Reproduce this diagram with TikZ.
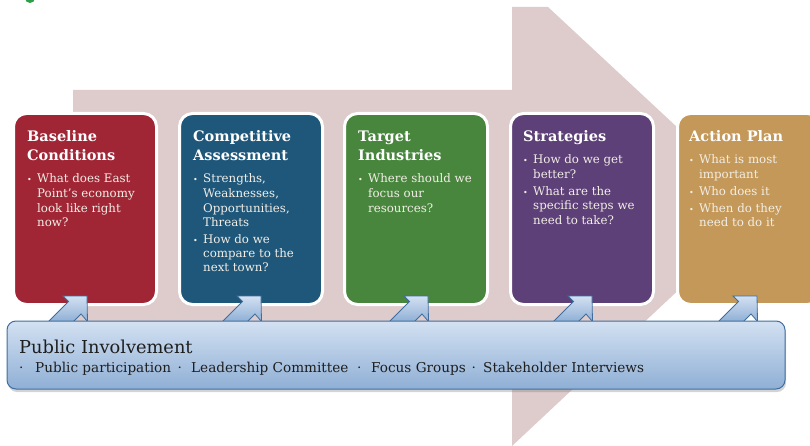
\documentclass[tikz,border=0pt]{standalone}
\usepackage{fontspec}
\setmainfont{DejaVu Serif}
\usepackage{tikz}
\usetikzlibrary{positioning, shadows}

\definecolor{arrowpink}{HTML}{DECBCC}
\definecolor{basered}{HTML}{A02636}
\definecolor{compblue}{HTML}{1F577A}
\definecolor{targetgreen}{HTML}{48863E}
\definecolor{stratpurple}{HTML}{5D4078}
\definecolor{actiongold}{HTML}{C49858}
\definecolor{publine}{HTML}{3F6E9E}
\definecolor{pubtop}{HTML}{D3E1F2}
\definecolor{pubbottom}{HTML}{8FAFD5}
\definecolor{bullettext}{HTML}{F2EEE6}
\definecolor{pubtext}{HTML}{1E1E1E}
\definecolor{dotgreen}{HTML}{2E9E48}

\newcommand{\stagedot}{\fontsize{8}{8}\selectfont\textbullet}

\tikzset{
    stage/.style={rounded corners=13pt, draw=white, line width=3pt, minimum width=143pt, minimum height=191pt, inner sep=0pt,
        drop shadow={opacity=0.18, shadow xshift=0.6pt, shadow yshift=-1.2pt}},
    stagetitle/.style={anchor=base west, inner sep=0pt, text=white, font=\bfseries\fontsize{14.5}{18.5}\selectfont},
    stagebullets/.style={anchor=base west, inner sep=0pt, text=bullettext, font=\fontsize{11.8}{14.5}\selectfont},
    pubbox/.style={rounded corners=9pt, draw=publine, line width=1pt, top color=pubtop, bottom color=pubbottom,
        minimum width=778pt, minimum height=68pt, inner sep=0pt,
        drop shadow={opacity=0.35, shadow xshift=1pt, shadow yshift=-3pt}},
    pubhead/.style={anchor=base west, inner sep=0pt, text=pubtext, font=\fontsize{17.8}{20}\selectfont},
    pubitem/.style={anchor=base west, inner sep=0pt, text=pubtext, font=\fontsize{13.6}{15}\selectfont},
    pubarrow/.pic={
        \draw[publine, line width=0.8pt, line join=miter, top color=pubtop, bottom color=pubbottom]
            (-38.5,25.5) -- (-18.5,5.5) -- (-24,0) -- (0,0) -- (0.5,25.5) -- (-6,18) -- (-13.5,25.5) -- cycle;
    }
}

\begin{document}
\begin{tikzpicture}[x=1pt, y=-1pt]
    \useasboundingbox (0,0) rectangle (810,446);
    \fill[dotgreen] (30,-2) circle (5);
    \coordinate (shaftNW) at (73,90);
    \coordinate (shaftNE) at (512,90);
    \coordinate (headN) at (512,7);
    \coordinate (headNE) at (548,7);
    \coordinate (headTip) at (765,209);
    \coordinate (headS) at (512,446);
    \coordinate (shaftSE) at (512,362);
    \coordinate (shaftSW) at (73,362);
    \fill[arrowpink] (shaftNW) -- (shaftNE) -- (headN) -- (headNE) -- (headTip) -- (headS) -- (shaftSE) -- (shaftSW) -- cycle;
    \node[stage, fill=basered] (base) at (85,209) {};
    \node[stage, fill=compblue] (comp) at (251,209) {};
    \node[stage, fill=targetgreen] (target) at (416,209) {};
    \node[stage, fill=stratpurple] (strat) at (582,209) {};
    \node[stage, fill=actiongold] (action) at (749,209) {};
    \node[stagetitle] (basetitle) at (27,142) {\begin{tabular}[t]{@{}l@{}}Baseline\\Conditions\end{tabular}};
    \node[stagetitle] (comptitle) at (193,142) {\begin{tabular}[t]{@{}l@{}}Competitive\\Assessment\end{tabular}};
    \node[stagetitle] (targettitle) at (358,142) {\begin{tabular}[t]{@{}l@{}}Target\\Industries\end{tabular}};
    \node[stagetitle] (strattitle) at (523,142) {Strategies};
    \node[stagetitle] (actiontitle) at (689,142) {Action Plan};
    \node[stagebullets] (basebullets) at (27,183) {\begin{tabular}[t]{@{}p{10pt}@{}l@{}}
        \stagedot & What does East\\ & Point’s economy\\ & look like right\\ & now?\end{tabular}};
    \node[stagebullets] (compbullets) at (193,183) {\begin{tabular}[t]{@{}p{10pt}@{}l@{}}
        \stagedot & Strengths,\\ & Weaknesses,\\ & Opportunities,\\ & Threats\\[2pt]
        \stagedot & How do we\\ & compare to the\\ & next town?\end{tabular}};
    \node[stagebullets] (targetbullets) at (358,183) {\begin{tabular}[t]{@{}p{10pt}@{}l@{}}
        \stagedot & Where should we\\ & focus our\\ & resources?\end{tabular}};
    \node[stagebullets] (stratbullets) at (523,164) {\begin{tabular}[t]{@{}p{10pt}@{}l@{}}
        \stagedot & How do we get\\ & better?\\[2.5pt]
        \stagedot & What are the\\ & specific steps we\\ & need to take?\end{tabular}};
    \node[stagebullets] (actionbullets) at (689,164) {\begin{tabular}[t]{@{}p{10pt}@{}l@{}}
        \stagedot & What is most\\ & important\\[2.5pt]
        \stagedot & Who does it\\[2.5pt]
        \stagedot & When do they\\ & need to do it\end{tabular}};
    \pic at (87,296) {pubarrow};
    \pic at (261,296) {pubarrow};
    \pic at (428,296) {pubarrow};
    \pic at (592,296) {pubarrow};
    \pic at (757,296) {pubarrow};
    \node[pubbox] (pub) at (396,355) {};
    \node[pubhead] (pubtitle) at (19,353) {Public Involvement};
    \node[pubitem] (pubdota) at (19,372) {·};
    \node[pubitem] (pubpart) at (35,372) {Public participation};
    \node[pubitem] (pubdotb) at (177.5,372) {·};
    \node[pubitem] (publead) at (191,372) {Leadership Committee};
    \node[pubitem] (pubdotc) at (357,372) {·};
    \node[pubitem] (pubfocus) at (371,372) {Focus Groups};
    \node[pubitem] (pubdotd) at (471.5,372) {·};
    \node[pubitem] (pubstake) at (483,372) {Stakeholder Interviews};
\end{tikzpicture}
\end{document}
